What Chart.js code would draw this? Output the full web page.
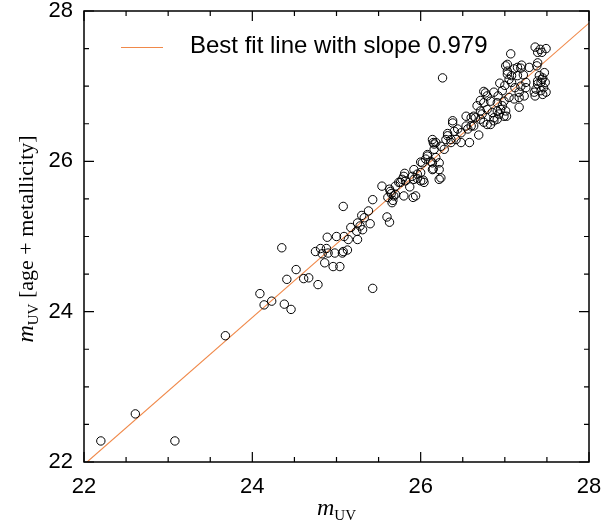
<!DOCTYPE html>
<html>
<head>
<meta charset="utf-8">
<script src="https://cdn.jsdelivr.net/npm/chart.js@4/dist/chart.umd.min.js"></script>
<style>
  html, body { margin: 0; padding: 0; background: #fff; }
  #wrap { width: 603px; height: 525px; }
</style>
</head>
<body>
<div id="wrap"><canvas id="scatter"></canvas></div>
<script>
// observed m_UV vs. m_UV predicted from age + metallicity
const mUV = [
  22.20, 22.61, 23.08, 23.68,
  24.09, 24.14, 24.23, 24.38, 24.46, 24.35, 24.41, 24.52, 24.61, 24.67, 24.78, 24.75,
  24.81, 24.83, 24.88, 24.90, 24.89, 24.86, 24.96, 25.04, 25.00, 24.98, 25.07, 25.08,
  25.13, 25.08, 25.09, 25.14, 25.17, 25.24, 25.25, 25.28, 25.30, 25.31, 25.33, 25.38,
  25.40, 25.43, 25.43, 25.54, 25.60, 25.63, 25.63, 25.65, 25.61, 25.67, 25.70, 25.74,
  25.80, 25.81, 25.78, 25.87, 25.91, 25.94, 25.92, 25.96, 26.00, 26.03, 26.08, 26.15,
  26.15, 26.22,
  27.07, 26.26, 27.36, 27.42, 27.49, 27.39, 27.44, 27.03, 27.11, 27.20, 27.19, 27.39,
  27.38, 27.03, 27.08, 27.15, 27.22, 27.47, 27.41, 27.44, 27.43, 27.48, 27.39, 27.46,
  27.43, 27.49, 26.94, 27.00, 27.08, 27.12, 27.19, 27.25, 27.17, 27.23, 27.35, 27.36,
  27.45, 26.75, 26.79, 26.87, 26.92, 26.97, 26.71, 26.75, 26.83, 26.91, 26.99, 27.05,
  27.11, 27.17, 26.67, 26.71, 26.79, 26.85, 26.91, 26.95, 27.02, 26.54, 26.60, 26.65,
  26.71, 26.75, 26.79, 26.87, 26.91, 26.38, 26.44, 26.48, 26.56, 26.60, 26.69, 26.14,
  26.16, 26.24, 26.32, 26.36, 26.42, 26.48, 26.58, 26.08, 26.06, 26.12, 26.18, 26.22,
  26.22, 26.14, 26.24, 25.92, 25.96, 26.00, 26.04, 25.80, 25.82, 25.76,
  27.01, 26.63, 26.54, 26.40, 26.36, 26.30, 26.28,
  26.32, 26.18, 26.16, 26.14, 26.02, 26.00, 25.90, 25.70, 25.64, 25.68, 25.66, 25.25,
  26.38,
  27.29, 27.15, 27.03, 27.45, 27.39, 27.37, 27.25, 27.05, 27.17, 26.77, 26.97, 27.01,
  26.93, 26.63, 26.73, 26.87, 26.99, 26.83
];
const mUVModel = [
  22.28, 22.64, 22.28, 23.68,
  24.24, 24.09, 24.14, 24.10, 24.03, 24.85, 24.43, 24.56, 24.44, 24.45, 24.36, 24.80,
  24.84, 24.77, 24.84, 24.78, 24.99, 24.65, 24.60, 24.60, 25.00, 24.78, 24.78, 24.80,
  24.82, 25.40, 25.00, 24.96, 25.12, 25.07, 24.96, 25.14, 25.28, 25.09, 25.25, 25.34,
  25.17, 25.49, 24.31, 25.67, 25.26, 25.19, 25.63, 25.57, 25.52, 25.48, 25.56, 25.72,
  25.54, 25.84, 25.76, 25.66, 25.52, 25.54, 25.76, 25.77, 25.99, 25.75, 26.07, 26.25,
  25.90, 25.76,
  27.43, 27.11, 27.52, 27.49, 27.50, 27.45, 27.45, 27.29, 27.23, 27.28, 27.24, 27.31,
  27.27, 27.16, 27.14, 27.14, 27.15, 27.18, 27.14, 27.09, 27.05, 27.05, 27.03, 26.98,
  26.94, 26.92, 27.04, 27.01, 27.05, 26.98, 27.00, 26.98, 26.92, 26.87, 26.92, 26.87,
  26.89, 26.93, 26.87, 26.92, 26.87, 26.94, 26.81, 26.78, 26.80, 26.78, 26.80, 26.85,
  26.83, 26.72, 26.74, 26.67, 26.69, 26.65, 26.67, 26.69, 26.60, 26.60, 26.58, 26.58,
  26.56, 26.52, 26.49, 26.54, 26.56, 26.54, 26.43, 26.38, 26.43, 26.47, 26.35, 26.29,
  26.23, 26.20, 26.34, 26.29, 26.29, 26.25, 26.25, 26.09, 26.03, 26.00, 26.05, 25.98,
  25.89, 25.89, 25.78, 25.89, 25.83, 25.74, 25.72, 25.80, 25.74, 25.72,
  27.27, 26.47, 26.47, 26.40, 26.25, 26.29, 26.16,
  26.37, 26.25, 26.16, 25.98, 25.98, 25.85, 25.80, 25.67, 25.60, 25.54, 25.45, 25.18,
  26.51,
  27.25, 27.25, 27.20, 27.11, 27.07, 26.96, 27.05, 27.09, 26.85, 26.91, 26.74, 26.67,
  26.63, 26.60, 26.63, 26.58, 26.60, 26.49
];

// linear fit: slope and the m_UV range it is drawn over
const fitSlope = 0.979;
const fitRange = [22.036, 28];

const axisMin = 22, axisMax = 28;
const majorStep = 2, minorStep = 0.5;

const fitColor = '#f0894a';

const points = mUV.map((x, i) => ({ x: x, y: mUVModel[i] }));
const fitLine = fitRange.map(x => ({ x: x, y: 22 + fitSlope * (x - fitRange[0]) }));

// box frame with inward ticks on all four sides
const frame = {
  id: 'frame',
  afterDraw(chart) {
    const { ctx, chartArea: a, scales } = chart;
    ctx.save();
    ctx.strokeStyle = '#000';
    ctx.lineWidth = 1.5;
    ctx.strokeRect(a.left, a.top, a.right - a.left, a.bottom - a.top);
    ctx.lineWidth = 1.2;
    ctx.beginPath();
    for (let v = axisMin; v <= axisMax + 1e-9; v += minorStep) {
      const len = (Math.abs(v % majorStep) < 1e-9) ? 10 : 5;
      const px = scales.x.getPixelForValue(v);
      const py = scales.y.getPixelForValue(v);
      ctx.moveTo(px, a.bottom); ctx.lineTo(px, a.bottom - len);
      ctx.moveTo(px, a.top); ctx.lineTo(px, a.top + len);
      ctx.moveTo(a.left, py); ctx.lineTo(a.left + len, py);
      ctx.moveTo(a.right, py); ctx.lineTo(a.right - len, py);
    }
    ctx.stroke();
    ctx.restore();
  }
};

// m_UV axis titles with subscript, plus the fit legend
function drawMUV(ctx, x, y, tail) {
  ctx.font = 'italic 24px "Liberation Serif"';
  ctx.fillText('m', x, y);
  x += ctx.measureText('m').width;
  ctx.font = '15px "Liberation Serif"';
  ctx.fillText('UV', x, y + 5);
  x += ctx.measureText('UV').width;
  if (tail) {
    ctx.font = '22px "Liberation Serif"';
    ctx.fillText(tail, x, y);
  }
}
function widthMUV(ctx, tail) {
  ctx.font = 'italic 24px "Liberation Serif"';
  let w = ctx.measureText('m').width;
  ctx.font = '15px "Liberation Serif"';
  w += ctx.measureText('UV').width;
  if (tail) {
    ctx.font = '22px "Liberation Serif"';
    w += ctx.measureText(tail).width;
  }
  return w;
}

const titles = {
  id: 'titles',
  afterDraw(chart) {
    const { ctx, chartArea: a } = chart;
    ctx.save();
    ctx.fillStyle = '#000';
    ctx.textBaseline = 'alphabetic';
    ctx.textAlign = 'left';

    const cx = (a.left + a.right) / 2;
    drawMUV(ctx, cx - widthMUV(ctx) / 2, 515);

    const tail = ' [age + metallicity]';
    const w = widthMUV(ctx, tail);
    ctx.translate(33, 239);
    ctx.rotate(-Math.PI / 2);
    drawMUV(ctx, -w / 2, 0, tail);
    ctx.restore();

    // legend for the fit line
    const fit = chart.data.datasets[1];
    ctx.save();
    ctx.strokeStyle = fit.borderColor;
    ctx.lineWidth = 1.2;
    ctx.beginPath();
    ctx.moveTo(121, 47.5);
    ctx.lineTo(163, 47.5);
    ctx.stroke();
    ctx.fillStyle = '#000';
    ctx.font = '24px "Liberation Sans"';
    ctx.textBaseline = 'middle';
    ctx.fillText(fit.label, 190, 46);
    ctx.restore();
  }
};

const tickFont = { family: '"Liberation Sans"', size: 22 };

new Chart(document.getElementById('scatter'), {
  type: 'scatter',
  data: {
    datasets: [
      {
        label: 'models',
        data: points,
        pointStyle: 'circle',
        pointRadius: 4.2,
        pointBorderWidth: 1,
        borderColor: '#000',
        backgroundColor: 'rgba(0,0,0,0)'
      },
      {
        type: 'line',
        label: 'Best fit line with slope ' + fitSlope,
        data: fitLine,
        borderColor: fitColor,
        borderWidth: 1.1,
        pointRadius: 0,
        fill: false
      }
    ]
  },
  options: {
    responsive: true,
    maintainAspectRatio: false,
    animation: false,
    layout: { padding: { top: 11, right: 14, left: 0, bottom: 0 } },
    plugins: { legend: { display: false }, tooltip: { enabled: false } },
    scales: {
      x: {
        type: 'linear',
        min: axisMin, max: axisMax,
        grid: { display: false, drawTicks: false },
        border: { display: false },
        ticks: { stepSize: majorStep, color: '#000', font: tickFont, padding: 12, maxRotation: 0 },
        afterFit(scale) {
          scale.height = 63;
          scale.paddingLeft = 0;
          scale.paddingRight = 0;
        }
      },
      y: {
        type: 'linear',
        min: axisMin, max: axisMax,
        grid: { display: false, drawTicks: false },
        border: { display: false },
        ticks: { stepSize: majorStep, color: '#000', font: tickFont, padding: 11 },
        afterFit(scale) {
          scale.width = 84;
          scale.paddingTop = 0;
          scale.paddingBottom = 0;
        }
      }
    }
  },
  plugins: [frame, titles]
});
</script>
</body>
</html>
